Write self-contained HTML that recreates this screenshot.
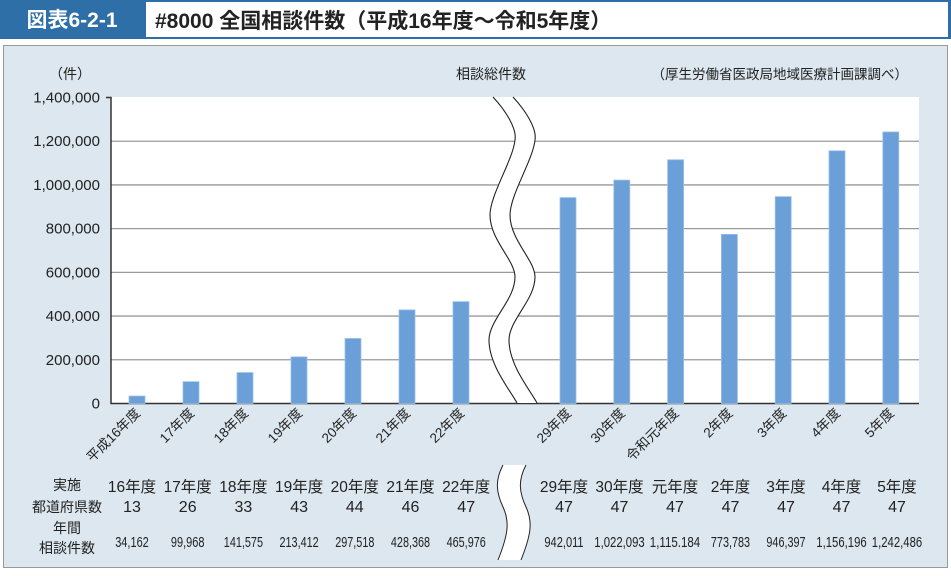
<!DOCTYPE html>
<html><head><meta charset="utf-8">
<style>
body{margin:0;width:951px;height:571px;overflow:hidden;background:#fff;font-family:"Liberation Sans","Noto Sans CJK JP",sans-serif;}
svg text{font-family:"Liberation Sans","Noto Sans CJK JP",sans-serif;}
</style></head>
<body>
<svg width="951" height="571" viewBox="0 0 951 571">
  <rect x="0" y="0" width="951" height="39" fill="#2e6fa7"/>
  <rect x="146" y="2" width="802" height="35" fill="#fff"/>
  <text x="72" y="27" text-anchor="middle" font-size="21" font-weight="bold" fill="#fff">図表6-2-1</text>
  <text x="155" y="28" font-size="21" font-weight="bold" fill="#222">#8000 全国相談件数（平成16年度～令和5年度）</text>
  <rect x="3.5" y="45.5" width="944" height="522" fill="#dce7ef" stroke="#999"/>
  <rect x="111" y="97" width="808" height="306" fill="#fff"/>
  <text x="70" y="79" text-anchor="middle" font-size="14" fill="#222">（件）</text>
  <text x="491" y="79" text-anchor="middle" font-size="14" fill="#222">相談総件数</text>
  <text x="908" y="79" text-anchor="end" font-size="13.5" fill="#222">（厚生労働省医政局地域医療計画課調べ）</text>
  <g id="grid"></g>
  <g id="bars"></g>
  <g id="brk"></g>
  <g id="xlabels"></g>
  <g id="table"></g>
</svg>
<script>
const categories=["平成16年度","17年度","18年度","19年度","20年度","21年度","22年度","29年度","30年度","令和元年度","2年度","3年度","4年度","5年度"];
const values=[34162,99968,141575,213412,297518,428368,465976,942011,1022093,1115184,773783,946397,1156196,1242486];
const yTicks=[0,200000,400000,600000,800000,1000000,1200000,1400000];
const tableYears=["16年度","17年度","18年度","19年度","20年度","21年度","22年度","29年度","30年度","元年度","2年度","3年度","4年度","5年度"];
const tablePrefs=["13","26","33","43","44","46","47","47","47","47","47","47","47","47"];
const tableCounts=["34,162","99,968","141,575","213,412","297,518","428,368","465,976","942,011","1,022,093","1,115.184","773,783","946,397","1,156,196","1,242,486"];

const NS="http://www.w3.org/2000/svg";
const X0=111,X1=919,Y0=403.5,Y1=97.5,YMAX=1400000;
function y(v){return Y0-(v/YMAX)*(Y0-Y1);}
function xc(i){return i<7?137+i*54:568+(i-7)*53.8;}
function tx(i){return i<7?132+i*55.7:564+(i-7)*55.5;}
function mk(tag,attrs,parent){const e=document.createElementNS(NS,tag);for(const k in attrs)e.setAttribute(k,attrs[k]);parent.appendChild(e);return e;}

const grid=document.getElementById('grid');
yTicks.forEach(v=>{
  if(v>0&&v<YMAX){
    const l=mk('line',{x1:X0,x2:X1,y1:y(v),y2:y(v),stroke:'#999','stroke-width':1.3},grid);
    
    
  }
  const t=mk('text',{x:100,y:y(v)+5,'text-anchor':'end','font-size':15,fill:'#222'},grid);
  t.textContent=v.toLocaleString('en-US');
  
  
});
const axes=mk('path',{d:`M${X0-5},${Y1}H${X0}V${Y0}H${X1}`,fill:'none',stroke:'#333','stroke-width':1.5},grid);



const bars=document.getElementById('bars');
values.forEach((v,i)=>{
  const r=mk('rect',{x:xc(i)-8,y:y(v),width:16,height:Y0-y(v),fill:'#6a9fd8',stroke:'#9cc0ea','stroke-width':0.8},bars);
  
  
});

const brk=document.getElementById('brk');
const L="M493,97 C505,110 517,128 515,140 C513,160 490,195 490,215 C490,240 515,260 515,277 C515,300 489,320 489,340 C489,365 510,390 517,403";
const R="M513,97 C525,110 537,128 535,140 C533,160 510,195 510,215 C510,240 535,260 535,277 C535,300 509,320 509,340 C509,365 530,390 537,403";
const band=mk('path',{d:L+" L537,403 C530,390 509,365 509,340 C509,320 535,300 535,277 C535,260 510,240 510,215 C510,195 533,160 535,140 C537,128 525,110 513,97 Z",fill:'#fff'},brk);


[L,R].forEach(d=>{const p=mk('path',{d:d,fill:'none',stroke:'#222','stroke-width':1.1},brk);
  
  });

const xl=document.getElementById('xlabels');
categories.forEach((c,i)=>{
  const t=mk('text',{x:xc(i)+4,y:414,'text-anchor':'end','font-size':13.5,fill:'#222',transform:`rotate(-45 ${xc(i)+4} 414)`},xl);
  t.textContent=c;
  
  
});

const tb=document.getElementById('table');
[["実施",490],["都道府県数",512],["年間",533],["相談件数",553]].forEach(([s,yy])=>{
  const t=mk('text',{x:67,y:yy,'text-anchor':'middle','font-size':14,fill:'#222'},tb);
  t.textContent=s;
  
  
});
tableYears.forEach((s,i)=>{
  const a=mk('text',{x:tx(i),y:492,'text-anchor':'middle','font-size':15.5,fill:'#222'},tb);
  a.textContent=s;
  
  
  const b=mk('text',{x:tx(i),y:512,'text-anchor':'middle','font-size':16,fill:'#222'},tb);
  b.textContent=tablePrefs[i];
  
  
  const len=tableCounts[i].length*5.6;
  const c=mk('text',{x:tx(i)-len/2,y:547,'font-size':14.5,fill:'#222',textLength:len,lengthAdjust:'spacingAndGlyphs'},tb);
  c.textContent=tableCounts[i];
  
  
});
const tbk=mk('path',{d:"M503,465 C495,480 496,492 503,507 C510,522 508,535 498,560 L521,560 C531,535 533,522 526,507 C519,492 518,480 526,465 Z",fill:'#fff',stroke:'none'},tb);


const tbk2=mk('path',{d:"M503,465 C495,480 496,492 503,507 C510,522 508,535 498,560 M526,465 C518,480 519,492 526,507 C533,522 531,535 521,560",fill:'none',stroke:'#222','stroke-width':1},tb);


</script>
</body></html>
